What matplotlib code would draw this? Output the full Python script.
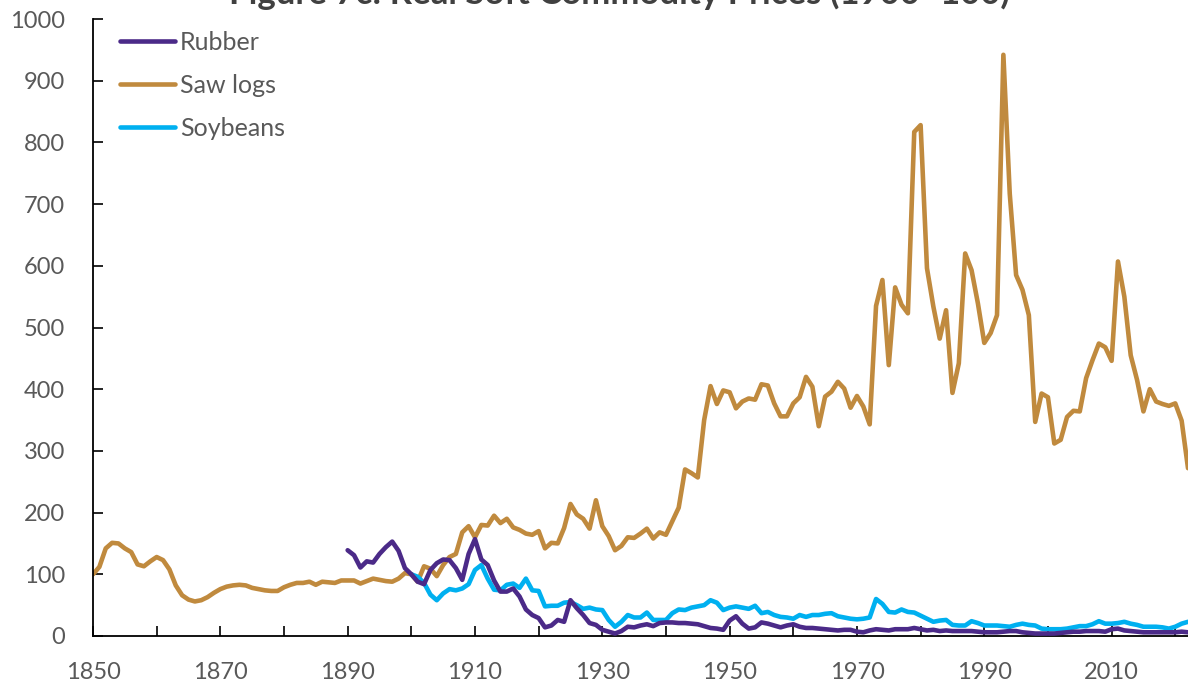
import matplotlib
matplotlib.use("Agg")
import matplotlib.pyplot as plt
from matplotlib.ticker import MultipleLocator, FixedLocator
import numpy as np

# ---- data -------------------------------------------------------------
saw_years = list(range(1850, 2023))
saw_logs = [
    100, 112, 142, 151, 150, 142, 136, 116, 113, 121,   # 1850-1859
    128, 123, 108, 82, 66, 59, 56, 58, 63, 70,          # 1860-1869
    76, 80, 82, 83, 82, 78, 76, 74, 73, 73,             # 1870-1879
    79, 83, 86, 86, 88, 83, 88, 87, 86, 90,             # 1880-1889
    90, 90, 85, 89, 93, 91, 89, 88, 93, 102,            # 1890-1899
    100, 88, 113, 109, 97, 115, 128, 133, 168, 178,     # 1900-1909
    160, 180, 179, 195, 183, 190, 176, 172, 166, 164,   # 1910-1919
    170, 142, 151, 150, 175, 214, 197, 190, 174, 220,   # 1920-1929
    178, 162, 139, 146, 160, 159, 166, 174, 158, 168,   # 1930-1939
    164, 186, 208, 270, 264, 257, 350, 405, 376, 398,   # 1940-1949
    395, 369, 380, 385, 383, 408, 406, 377, 356, 356,   # 1950-1959
    377, 387, 420, 404, 340, 388, 396, 412, 401, 370,   # 1960-1969
    389, 372, 343, 535, 577, 439, 565, 537, 523, 817,   # 1970-1979
    828, 596, 534, 482, 528, 394, 442, 620, 593, 539,   # 1980-1989
    475, 491, 520, 942, 717, 585, 561, 520, 347, 393,   # 1990-1999
    387, 312, 318, 355, 365, 364, 418, 447, 474, 468,   # 2000-2009
    446, 607, 550, 455, 415, 364, 400, 380, 376, 373,   # 2010-2019
    377, 349, 272,                                      # 2020-2022
]

rubber_years = list(range(1890, 2023))
rubber = [
    139, 131, 111, 121, 119, 133, 144, 153, 138, 110,   # 1890-1899
    100, 88, 84, 107, 118, 124, 123, 110, 91, 133,      # 1900-1909
    157, 124, 115, 90, 72, 72, 77, 64, 43, 34,          # 1910-1919
    29, 14, 17, 26, 23, 58, 45, 34, 21, 18,             # 1920-1929
    10, 7, 4, 8, 15, 14, 17, 19, 16, 21,                # 1930-1939
    22, 22, 21, 21, 20, 19, 16, 13, 12, 10,             # 1940-1949
    25, 32, 20, 12, 14, 22, 20, 17, 14, 17,             # 1950-1959
    19, 15, 13, 13, 12, 11, 10, 9, 10, 10,              # 1960-1969
    7, 6, 9, 11, 10, 9, 11, 11, 11, 13,                 # 1970-1979
    11, 9, 10, 8, 9, 8, 8, 8, 8, 7,                     # 1980-1989
    6, 6, 6, 7, 8, 8, 6, 5, 4, 4,                       # 1990-1999
    4, 4, 5, 6, 7, 7, 8, 8, 8, 7,                       # 2000-2009
    11, 12, 9, 8, 7, 6, 6, 6, 6, 6,                     # 2010-2019
    6, 7, 6,                                            # 2020-2022
]

soy_years = list(range(1900, 2023))
soybeans = [
    100, 96, 86, 67, 58, 69, 76, 74, 77, 84,            # 1900-1909
    107, 115, 93, 75, 74, 83, 85, 78, 93, 74,           # 1910-1919
    73, 48, 49, 49, 54, 55, 50, 44, 46, 43,             # 1920-1929
    42, 26, 15, 23, 34, 30, 30, 38, 26, 26,             # 1930-1939
    26, 37, 43, 42, 46, 48, 50, 58, 54, 42,             # 1940-1949
    46, 48, 46, 44, 49, 37, 39, 34, 31, 30,             # 1950-1959
    28, 34, 31, 34, 34, 36, 37, 32, 30, 28,             # 1960-1969
    27, 28, 30, 60, 52, 39, 38, 43, 39, 38,             # 1970-1979
    33, 28, 23, 25, 26, 18, 17, 17, 24, 21,             # 1980-1989
    17, 17, 17, 16, 15, 18, 20, 18, 17, 12,             # 1990-1999
    11, 11, 11, 12, 14, 16, 16, 19, 24, 20,             # 2000-2009
    20, 21, 23, 20, 18, 15, 15, 15, 14, 12,             # 2010-2019
    15, 20, 23,                                         # 2020-2022
]

series_labels = ["Rubber", "Saw logs", "Soybeans"]
title_text = "Figure 7c: Real Soft Commodity Prices (1900=100)"

# ---- style ------------------------------------------------------------
plt.rcParams['font.family'] = ['Lato', 'DejaVu Sans']
TXT = '#595959'
C_RUB = '#4B2A88'
C_SAW = '#C08A3E'
C_SOY = '#00B0F0'

W, H = 1188, 687
fig = plt.figure(figsize=(W / 100, H / 100), dpi=100)
ax = fig.add_axes([93 / W, 1 - 636 / H, (W - 93) / W, (636 - 19) / H])

lw = 3.3
ax.plot(rubber_years, rubber, color=C_RUB, lw=lw, label=series_labels[0],
        solid_joinstyle='round', solid_capstyle='round', zorder=3)
ax.plot(saw_years, saw_logs, color=C_SAW, lw=lw, label=series_labels[1],
        solid_joinstyle='round', solid_capstyle='round', zorder=2)
ax.plot(soy_years, soybeans, color=C_SOY, lw=lw, label=series_labels[2],
        solid_joinstyle='round', solid_capstyle='round', zorder=2.5)

ax.set_xlim(1850, 2022)
ax.set_ylim(0, 1000)

ax.xaxis.set_major_locator(FixedLocator(range(1850, 2021, 20)))
ax.xaxis.set_minor_locator(FixedLocator(range(1860, 2021, 20)))
ax.yaxis.set_major_locator(MultipleLocator(100))

for s in ['top', 'right']:
    ax.spines[s].set_visible(False)
for s in ['left', 'bottom']:
    ax.spines[s].set_color('black')
    ax.spines[s].set_linewidth(1.3)

ax.tick_params(axis='both', which='both', direction='in', length=7,
               width=1.2, color='black', labelcolor=TXT, labelsize=17)
ax.tick_params(axis='x', pad=19)
ax.tick_params(axis='y', pad=20)

leg = ax.legend(loc='upper left', bbox_to_anchor=(120 / W, 1 - 31 / H),
                bbox_transform=fig.transFigure, frameon=False, fontsize=18,
                handlelength=2.2, handletextpad=0.2, labelspacing=0.8,
                borderpad=0, borderaxespad=0)
for t in leg.get_texts():
    t.set_color(TXT)

fig.text(619 / W, 1 - 4 / H, title_text, ha='center', va='baseline',
         fontsize=25, fontweight='bold', color='#404040')

fig.savefig('out.png', dpi=100)
